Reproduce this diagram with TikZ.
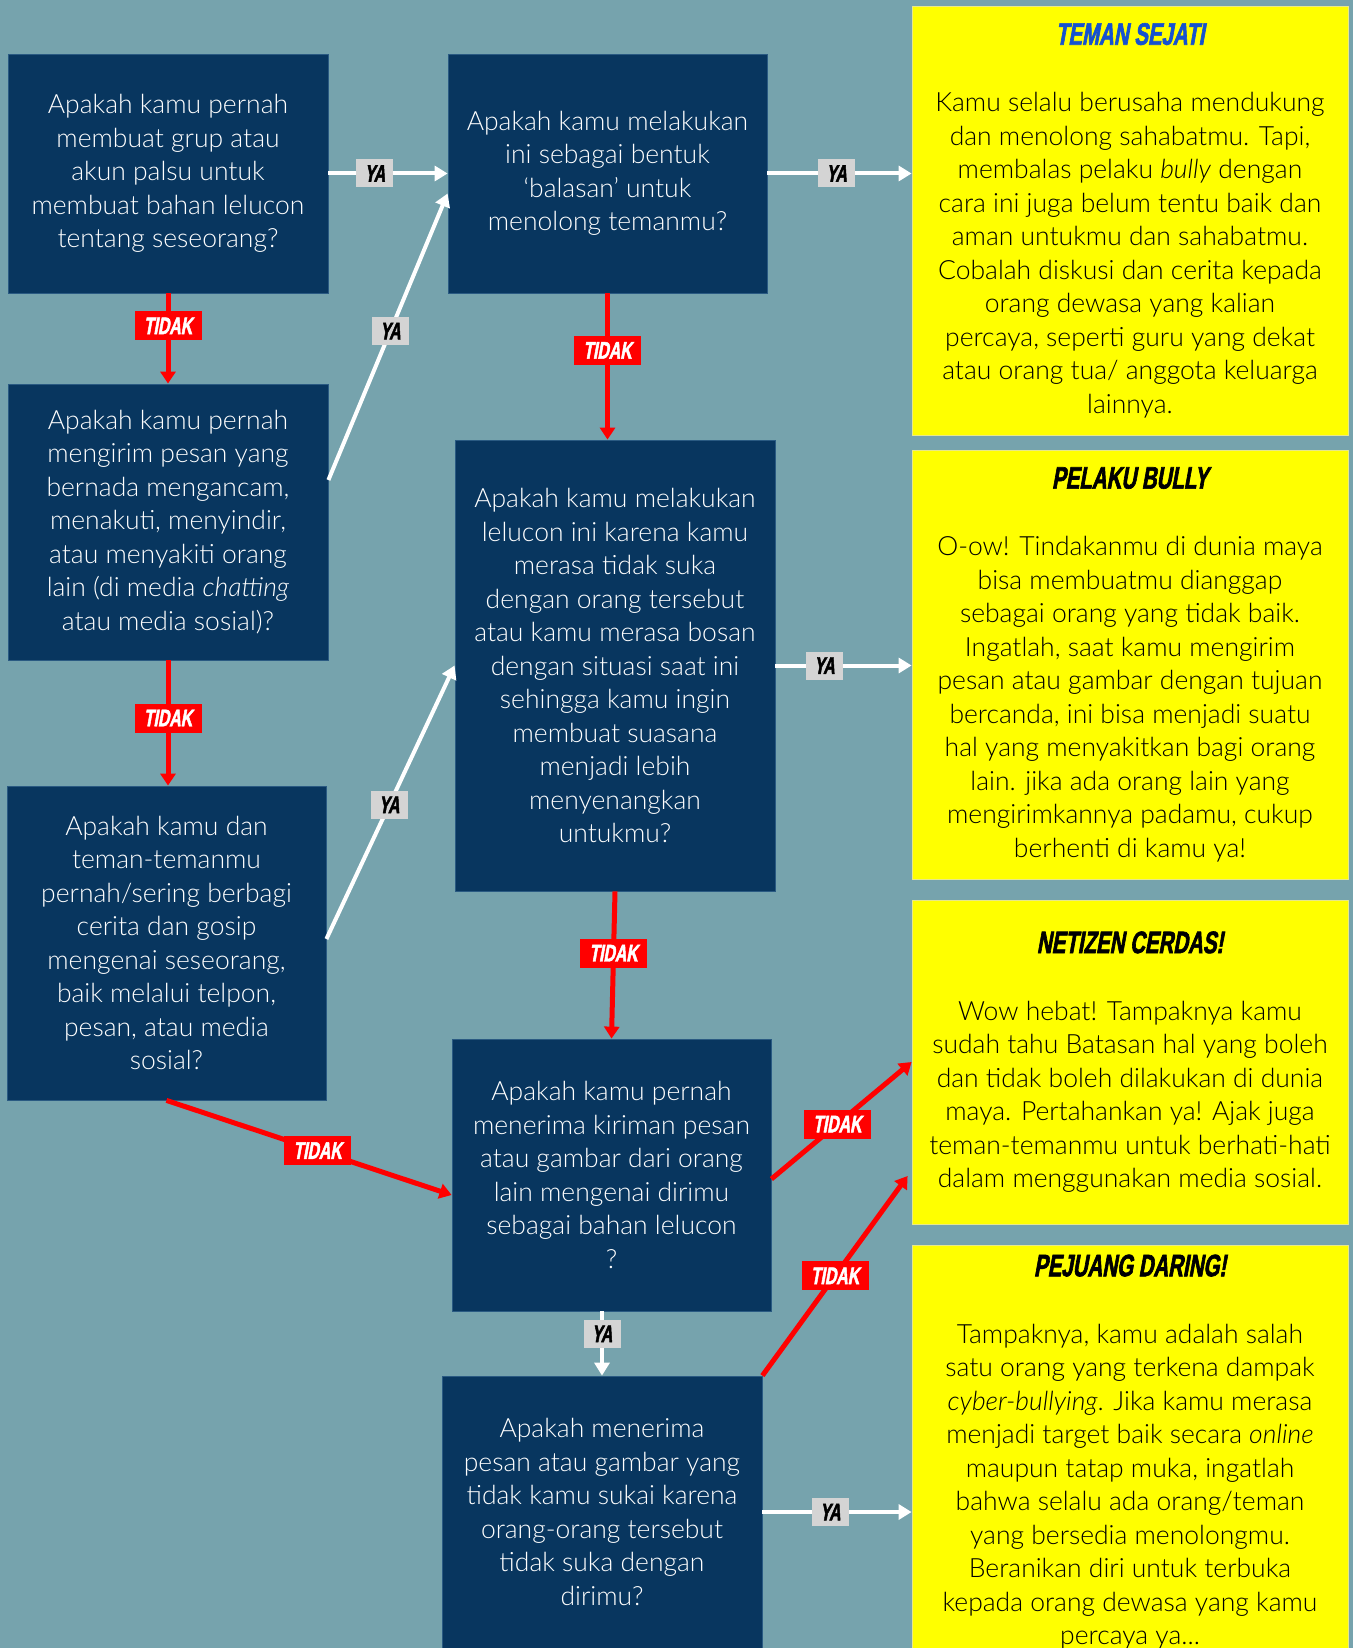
\documentclass[tikz,border=0pt]{standalone}
\usepackage{fontspec}
\setmainfont{Lato}[UprightFont=* Light, ItalicFont=* Light Italic]
\newfontfamily\ttlfont{Liberation Sans}[UprightFont=* Bold, FakeStretch=0.66, FakeSlant=0.18, FakeBold=2]
\usetikzlibrary{arrows.meta,calc}
\definecolor{bgc}{HTML}{76A3AD}
\definecolor{navy}{HTML}{08365F}
\definecolor{navyedge}{HTML}{2A5A82}
\definecolor{ylw}{HTML}{FFFF00}
\definecolor{ylwedge}{HTML}{E8E88A}
\definecolor{ttlblue}{HTML}{1552CF}
\definecolor{redc}{HTML}{FF0000}
\definecolor{lblgray}{HTML}{D4D4D4}
\tikzset{
  qbox/.style={fill=navy, draw=navyedge, line width=0.8pt, text=white, align=center,
    font=\fontsize{26.5}{33.5}\selectfont, inner sep=0pt},
  ybox/.style={fill=ylw, draw=ylwedge, line width=0.8pt, text=black, align=center,
    font=\fontsize{26.5}{33.5}\selectfont, inner sep=0pt, minimum width=436pt},
  yesarrow/.style={draw=white, line width=4pt, -{Triangle[length=13pt,width=15pt]}},
  noarrow/.style={draw=redc, line width=5pt, -{Triangle[length=12pt,width=15pt]}},
  yalbl/.style={fill=lblgray, text=black, font=\ttlfont\fontsize{24}{24}\selectfont,
    minimum width=37pt, minimum height=28pt, inner sep=0pt},
  nolbl/.style={fill=redc, text=white, font=\ttlfont\fontsize{24}{24}\selectfont,
    minimum width=67pt, minimum height=29pt, inner sep=0pt},
}
\newcommand{\ttlline}[2]{{\ttlfont\fontsize{31}{33.5}\selectfont\color{#1}#2}}
\begin{document}
\begin{tikzpicture}[x=1pt,y=-1pt]
\fill[bgc] (0,0) rectangle (1353,1648);
\useasboundingbox (0,0) rectangle (1353,1648);
\clip (0,0) rectangle (1353,1648);

% question boxes
\node[qbox, minimum width=320pt, minimum height=239pt] (q1) at (168,173.5)
  {Apakah kamu pernah\\membuat grup atau\\akun palsu untuk\\membuat bahan lelucon\\tentang seseorang?};
\node[qbox, minimum width=319pt, minimum height=239pt] (q4) at (607.5,173.5)
  {Apakah kamu melakukan\\ini sebagai bentuk\\‘balasan’ untuk\\menolong temanmu?};
\node[qbox, minimum width=320pt, minimum height=276pt] (q2) at (168,522)
  {Apakah kamu pernah\\mengirim pesan yang\\bernada mengancam,\\menakuti, menyindir,\\atau menyakiti orang\\lain (di media \textit{chatting}\\atau media sosial)?};
\node[qbox, minimum width=319pt, minimum height=314pt] (q3) at (166.5,943)
  {Apakah kamu dan\\teman-temanmu\\pernah/sering berbagi\\cerita dan gosip\\mengenai seseorang,\\baik melalui telpon,\\pesan, atau media\\sosial?};
\node[qbox, minimum width=320pt, minimum height=451pt] (q5) at (615,665.5)
  {Apakah kamu melakukan\\lelucon ini karena kamu\\merasa tidak suka\\dengan orang tersebut\\atau kamu merasa bosan\\dengan situasi saat ini\\sehingga kamu ingin\\membuat suasana\\menjadi lebih\\menyenangkan\\untukmu?};
\node[qbox, minimum width=319pt, minimum height=272pt] (q6) at (611.5,1175)
  {Apakah kamu pernah\\menerima kiriman pesan\\atau gambar dari orang\\lain mengenai dirimu\\sebagai bahan lelucon\\?};
\node[qbox, minimum width=320pt, minimum height=272pt] (q7) at (602,1512)
  {Apakah menerima\\pesan atau gambar yang\\tidak kamu sukai karena\\orang-orang tersebut\\tidak suka dengan\\dirimu?};

% result boxes
\node[ybox, minimum height=429pt] (y1) at (1130,220.5)
  {\ttlline{ttlblue}{TEMAN SEJATI}\\[33.5pt]
   Kamu selalu berusaha mendukung\\dan menolong sahabatmu. Tapi,\\membalas pelaku \textit{bully} dengan\\cara ini juga belum tentu baik dan\\aman untukmu dan sahabatmu.\\Cobalah diskusi dan cerita kepada\\orang dewasa yang kalian\\percaya, seperti guru yang dekat\\atau orang tua/ anggota keluarga\\lainnya.};
\node[ybox, minimum height=429pt] (y2) at (1130,664.5)
  {\ttlline{black}{PELAKU BULLY}\\[33.5pt]
   O-ow! Tindakanmu di dunia maya\\bisa membuatmu dianggap\\sebagai orang yang tidak baik.\\Ingatlah, saat kamu mengirim\\pesan atau gambar dengan tujuan\\bercanda, ini bisa menjadi suatu\\hal yang menyakitkan bagi orang\\lain. jika ada orang lain yang\\mengirimkannya padamu, cukup\\berhenti di kamu ya!};
\node[ybox, minimum height=324pt] (y3) at (1130,1062)
  {\ttlline{black}{NETIZEN CERDAS!}\\[33.5pt]
   Wow hebat! Tampaknya kamu\\sudah tahu Batasan hal yang boleh\\dan tidak boleh dilakukan di dunia\\maya. Pertahankan ya! Ajak juga\\teman-temanmu untuk berhati-hati\\dalam menggunakan media sosial.};
\node[ybox, minimum height=414pt] (y4) at (1130,1452)
  {\ttlline{black}{PEJUANG DARING!}\\[33.5pt]
   Tampaknya, kamu adalah salah\\satu orang yang terkena dampak\\\textit{cyber-bullying}. Jika kamu merasa\\menjadi target baik secara \textit{online}\\maupun tatap muka, ingatlah\\bahwa selalu ada orang/teman\\yang bersedia menolongmu.\\Beranikan diri untuk terbuka\\kepada orang dewasa yang kamu\\percaya ya...};

% connectors
\draw[yesarrow] (q1.east) -- (q4.west) node[yalbl, pos=0.39] (l1) {YA};
\draw[noarrow] (q1.south) -- (q2.north) node[nolbl, pos=0.36] (l2) {TIDAK};
\draw[yesarrow] ($(q2.east)+(0,-42)$) -- ($(q4.west)+(0,20)$) node[yalbl, pos=0.52] (l3) {YA};
\draw[noarrow] (q2.south) -- (q2.south |- q3.north) node[nolbl, pos=0.46] (l4) {TIDAK};
\draw[yesarrow] ($(q3.east)+(0,-4)$) -- (q5.west) node[yalbl, pos=0.49] (l5) {YA};
\draw[yesarrow] (q4.east) -- (q4.east -| y1.west) node[yalbl, pos=0.48] (l6) {YA};
\draw[noarrow] (q4.south) -- (q4.south |- q5.north) node[nolbl, pos=0.39] (l7) {TIDAK};
\draw[yesarrow] (q5.east) -- (q5.east -| y2.west) node[yalbl, pos=0.36] (l8) {YA};
\draw[noarrow] (q5.south) -- (q6.north) node[nolbl, pos=0.42] (l9) {TIDAK};
\draw[noarrow] (q3.south) -- ($(q6.west)+(0,20)$) node[nolbl, pos=0.53] (l10) {TIDAK};
\draw[noarrow] ($(q6.east)+(0,4)$) -- (y3.west) node[nolbl, pos=0.47] (l11) {TIDAK};
\draw[yesarrow] (q6.south -| q7.north) -- (q7.north) node[yalbl, pos=0.35] (l12) {YA};
\draw[noarrow] (q7.north east) -- ($(y3.west)+(-4,114)$) node[nolbl, pos=0.5] (l13) {TIDAK};
\draw[yesarrow] (q7.east) -- (q7.east -| y4.west) node[yalbl, pos=0.455] (l14) {YA};
\end{tikzpicture}
\end{document}
